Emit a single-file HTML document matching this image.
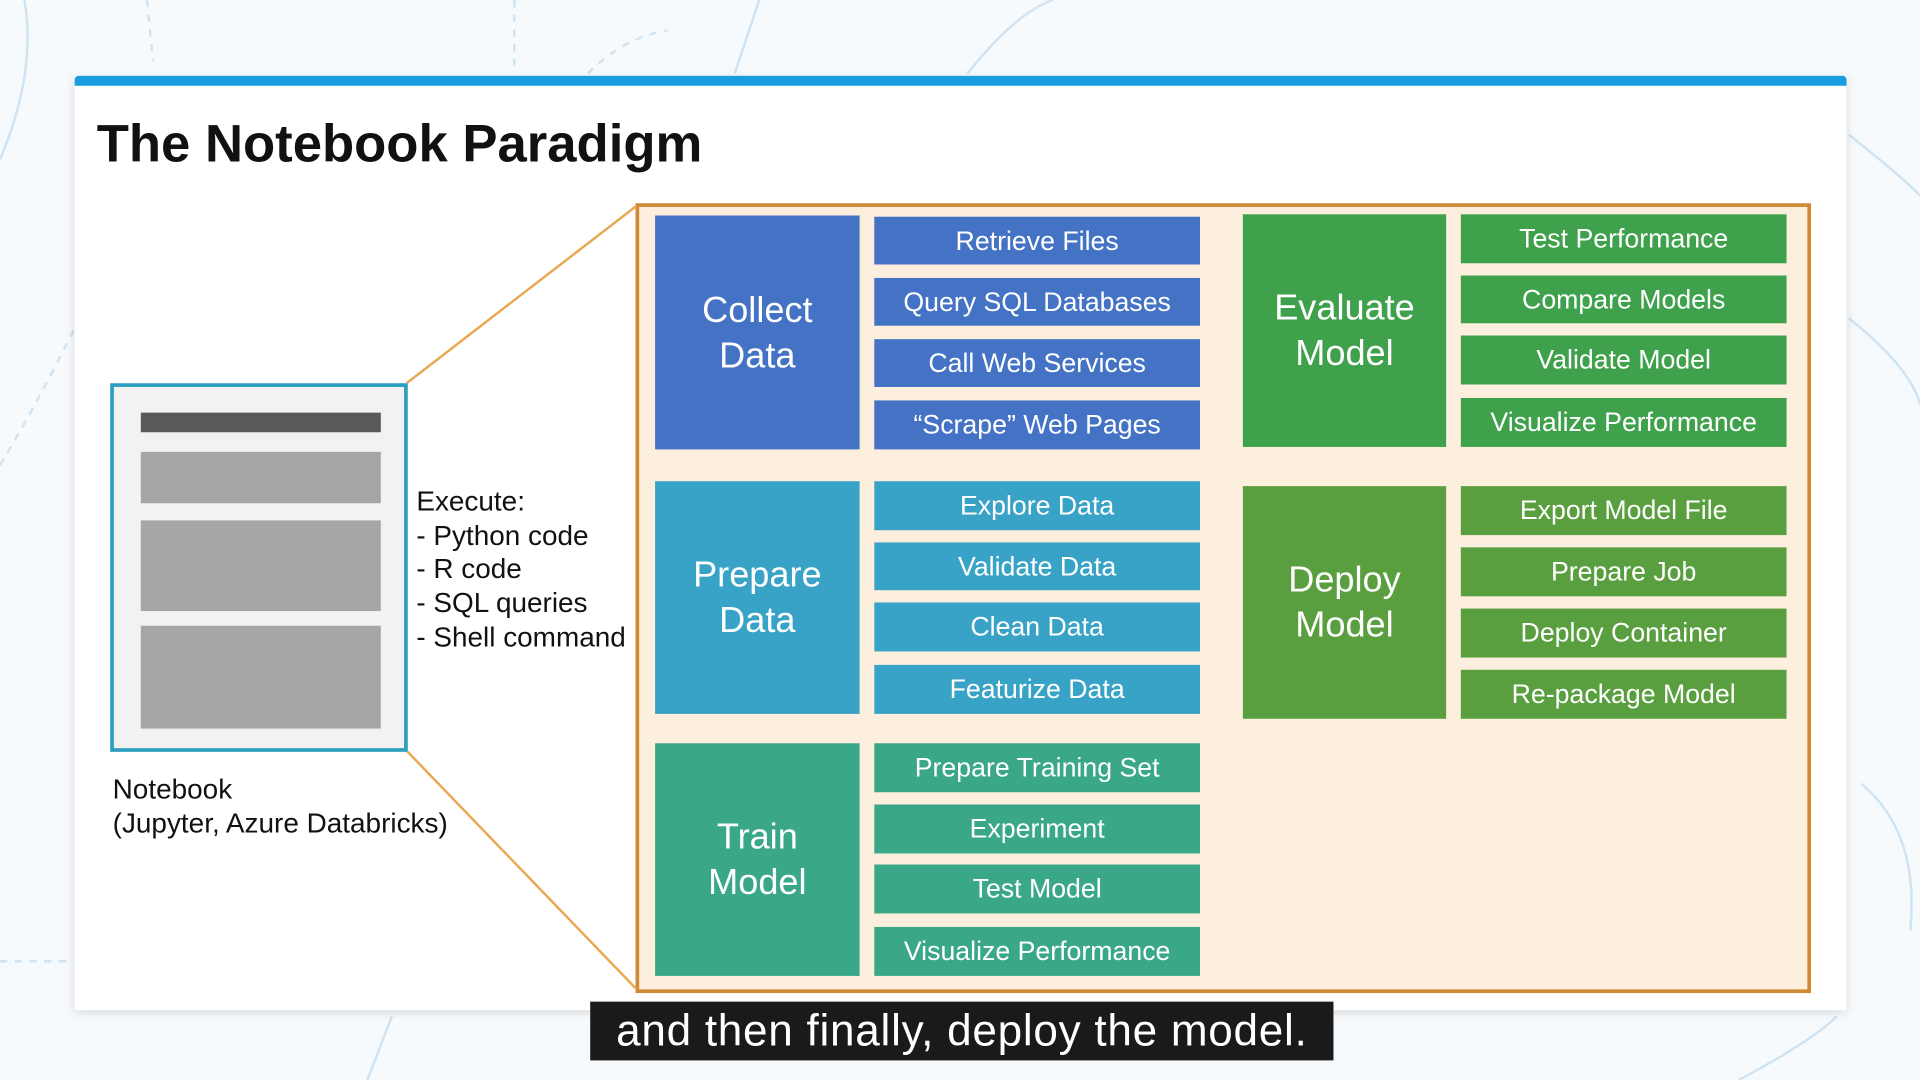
<!DOCTYPE html>
<html><head><meta charset="utf-8"><style>
html,body{margin:0;padding:0;width:1920px;height:1080px;overflow:hidden;background:#f7fafc;}
#s{position:absolute;left:0;top:0;width:1568px;height:882px;transform:scale(1.22449);transform-origin:0 0;font-family:"Liberation Sans",Arial,sans-serif;}
.a{position:absolute;box-sizing:border-box;}
.b{position:absolute;color:#fff;display:flex;align-items:center;justify-content:center;text-align:center;font-size:29.5px;line-height:37px;}
.t{position:absolute;color:#fff;display:flex;align-items:center;justify-content:center;font-size:21.8px;white-space:nowrap;}
</style></head><body><div id="s">
<svg class="a" style="left:0;top:0" width="1568" height="882">
<g fill="none" stroke="#cfe3f2" stroke-width="2">
<path d="M0 130 Q30 60 20 0"/><path d="M600 60 L620 0"/><path d="M790 60 Q830 10 860 0"/><path d="M1510 110 Q1560 150 1568 160"/><path d="M1510 260 Q1560 300 1568 330"/><path d="M1520 640 Q1568 680 1560 760"/><path d="M300 882 L320 830"/><path d="M1420 882 Q1480 850 1500 830"/>
<path d="M120 0 L125 50" stroke-dasharray="6 6"/><path d="M420 0 L420 60" stroke-dasharray="6 6"/><path d="M480 60 Q510 30 545 25" stroke-dasharray="6 6"/><path d="M0 380 Q30 330 60 270" stroke-dasharray="6 6"/><path d="M0 785 L60 785" stroke-dasharray="6 6"/>
</g></svg>
<div class="a" style="left:61px;top:62px;width:1447px;height:763px;background:#fff;box-shadow:0 2px 8px rgba(0,0,0,0.15);"></div>
<div class="a" style="left:61px;top:62px;width:1447px;height:8px;background:#1a9de0;border-radius:3px 3px 0 0;"></div>
<div class="a" style="left:79px;top:94px;font-size:43px;font-weight:bold;color:#111;">The Notebook Paradigm</div>
<div class="a" style="left:519px;top:166px;width:960px;height:645px;background:#fdefdd;border:3px solid #d08a35;"></div>
<svg class="a" style="left:0;top:0" width="1568" height="882"><g stroke="#e9a850" stroke-width="2"><line x1="332" y1="313" x2="520" y2="168"/><line x1="332" y1="613" x2="520" y2="808"/></g></svg>
<div class="a" style="left:90px;top:313px;width:243px;height:301px;background:#f2f2f2;border:3px solid #2a9fc0;"></div>
<div class="a" style="left:115px;top:337px;width:196px;height:16px;background:#595959;"></div>
<div class="a" style="left:115px;top:369px;width:196px;height:42px;background:#a6a6a6;"></div>
<div class="a" style="left:115px;top:425px;width:196px;height:74px;background:#a6a6a6;"></div>
<div class="a" style="left:115px;top:511px;width:196px;height:84px;background:#a6a6a6;"></div>
<div class="a" style="left:340px;top:396px;font-size:22.8px;line-height:27.7px;color:#111;">Execute:<br>- Python code<br>- R code<br>- SQL queries<br>- Shell command</div>
<div class="a" style="left:92px;top:631px;font-size:22.8px;line-height:27.7px;color:#111;">Notebook<br>(Jupyter, Azure Databricks)</div>

<div class="b" style="left:535px;top:176px;width:167px;height:191px;background:#4472c4;">Collect<br>Data</div>
<div class="t" style="left:714px;top:177px;width:266px;height:39px;background:#4472c4;">Retrieve Files</div>
<div class="t" style="left:714px;top:227px;width:266px;height:39px;background:#4472c4;">Query SQL Databases</div>
<div class="t" style="left:714px;top:277px;width:266px;height:39px;background:#4472c4;">Call Web Services</div>
<div class="t" style="left:714px;top:327px;width:266px;height:40px;background:#4472c4;">“Scrape” Web Pages</div>

<div class="b" style="left:535px;top:393px;width:167px;height:190px;background:#38a3c6;">Prepare<br>Data</div>
<div class="t" style="left:714px;top:393px;width:266px;height:40px;background:#38a3c6;">Explore Data</div>
<div class="t" style="left:714px;top:443px;width:266px;height:39px;background:#38a3c6;">Validate Data</div>
<div class="t" style="left:714px;top:492px;width:266px;height:40px;background:#38a3c6;">Clean Data</div>
<div class="t" style="left:714px;top:543px;width:266px;height:40px;background:#38a3c6;">Featurize Data</div>

<div class="b" style="left:535px;top:607px;width:167px;height:190px;background:#3aa888;">Train<br>Model</div>
<div class="t" style="left:714px;top:607px;width:266px;height:40px;background:#3aa888;">Prepare Training Set</div>
<div class="t" style="left:714px;top:657px;width:266px;height:40px;background:#3aa888;">Experiment</div>
<div class="t" style="left:714px;top:706px;width:266px;height:40px;background:#3aa888;">Test Model</div>
<div class="t" style="left:714px;top:757px;width:266px;height:40px;background:#3aa888;">Visualize Performance</div>

<div class="b" style="left:1015px;top:175px;width:166px;height:190px;background:#3fa14b;">Evaluate<br>Model</div>
<div class="t" style="left:1193px;top:175px;width:266px;height:40px;background:#3fa14b;">Test Performance</div>
<div class="t" style="left:1193px;top:225px;width:266px;height:39px;background:#3fa14b;">Compare Models</div>
<div class="t" style="left:1193px;top:274px;width:266px;height:40px;background:#3fa14b;">Validate Model</div>
<div class="t" style="left:1193px;top:325px;width:266px;height:40px;background:#3fa14b;">Visualize Performance</div>

<div class="b" style="left:1015px;top:397px;width:166px;height:190px;background:#5a9f3f;">Deploy<br>Model</div>
<div class="t" style="left:1193px;top:397px;width:266px;height:40px;background:#5a9f3f;">Export Model File</div>
<div class="t" style="left:1193px;top:447px;width:266px;height:40px;background:#5a9f3f;">Prepare Job</div>
<div class="t" style="left:1193px;top:497px;width:266px;height:40px;background:#5a9f3f;">Deploy Container</div>
<div class="t" style="left:1193px;top:547px;width:266px;height:40px;background:#5a9f3f;">Re-package Model</div>

<div class="a" style="left:482px;top:818px;width:607px;height:48px;background:#1a1a1a;color:#fff;font-size:36px;letter-spacing:0.6px;display:flex;align-items:center;justify-content:center;white-space:nowrap;">and then finally, deploy the model.</div>
</div></body></html>
